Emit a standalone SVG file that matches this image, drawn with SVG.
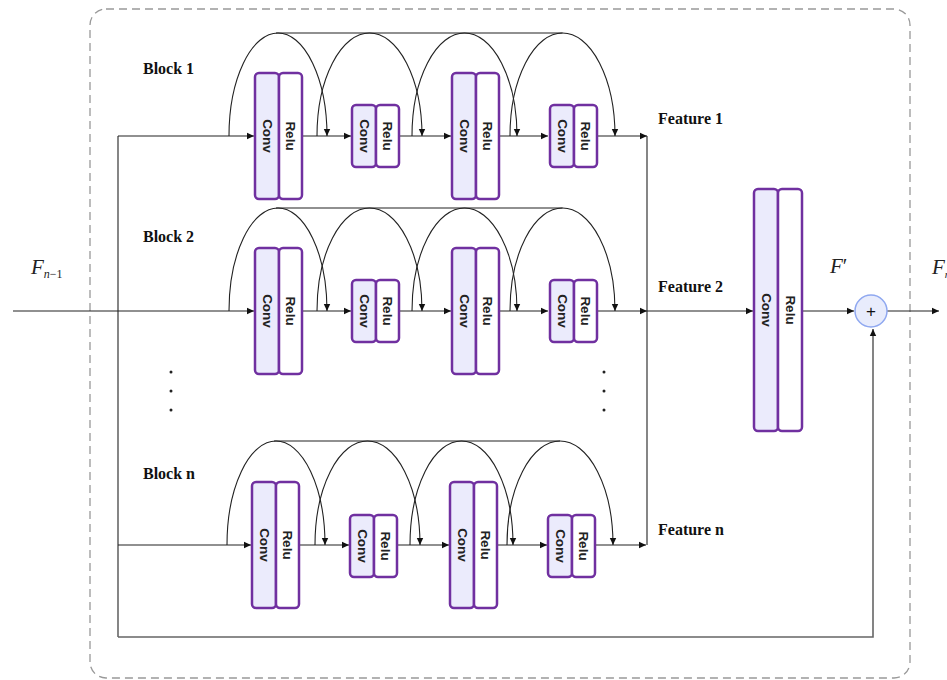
<svg xmlns="http://www.w3.org/2000/svg" width="947" height="680" viewBox="0 0 947 680">
<style>
.conv{fill:#EBEBFC;stroke:#7030A0;stroke-width:2.5}
.relu{fill:#FFFFFF;stroke:#7030A0;stroke-width:2.5}
.bt{font-family:"Liberation Sans",Arial,sans-serif;font-weight:bold;font-size:13.5px;fill:#222;text-anchor:middle;dominant-baseline:central}
.lbl{font-family:"Liberation Serif","Times New Roman",serif;font-weight:bold;font-size:16px;fill:#111}
.math{font-family:"Liberation Serif","Times New Roman",serif;font-style:italic;fill:#222}
.ln{fill:none;stroke:#222;stroke-width:1.1}
.gl{fill:none;stroke:#666;stroke-width:1.6}
.dot{fill:#222}
</style>
<defs>
<marker id="ah" markerWidth="8" markerHeight="8" refX="7" refY="4" orient="auto" markerUnits="userSpaceOnUse">
<path d="M0,0.8 L7,4 L0,7.2 Z" fill="#111"/>
</marker>
<g id="pair-big">
<rect class="conv" x="0" y="0" width="24" height="126" rx="4"/>
<rect class="relu" x="24" y="0" width="23" height="126" rx="4"/>
<text class="bt" transform="translate(12,63) rotate(90)">Conv</text>
<text class="bt" transform="translate(35.5,63) rotate(90)">Relu</text>
</g>
<g id="pair-small">
<rect class="conv" x="0" y="0" width="24" height="62" rx="4"/>
<rect class="relu" x="24" y="0" width="23" height="62" rx="4"/>
<text class="bt" transform="translate(12,31) rotate(90)">Conv</text>
<text class="bt" transform="translate(35.5,31) rotate(90)">Relu</text>
</g>
</defs>
<rect width="947" height="680" fill="#FFFFFF"/>
<rect id="frame" x="90" y="9" width="820" height="669" rx="16" fill="none" stroke="#999" stroke-width="1.3" stroke-dasharray="8,5"/>

<g id="connectors">
<polyline class="ln" points="118,136 118,637"/>
<polyline class="gl" points="118,637 873,637 873,329" marker-end="url(#ah)"/>
<!-- block 1 -->
<line class="ln" x1="118" y1="136" x2="254" y2="136" marker-end="url(#ah)"/>
<line class="ln" x1="302" y1="136" x2="351" y2="136" marker-end="url(#ah)"/>
<line class="ln" x1="399" y1="136" x2="451" y2="136" marker-end="url(#ah)"/>
<line class="ln" x1="499" y1="136" x2="548" y2="136" marker-end="url(#ah)"/>
<line class="ln" x1="597" y1="136" x2="647" y2="136" marker-end="url(#ah)"/>
<path class="ln" d="M229,136 A49,103 0 0 1 327,136" marker-end="url(#ah)"/>
<path class="ln" d="M317,136 A52.5,103 0 0 1 422,136" marker-end="url(#ah)"/>
<path class="ln" d="M412,136 A52.5,103 0 0 1 517,136" marker-end="url(#ah)"/>
<path class="ln" d="M510,136 A52.5,103 0 0 1 615,136" marker-end="url(#ah)"/>
<line class="ln" x1="276" y1="33" x2="562.5" y2="33"/>
<!-- block 2 -->
<line class="ln" x1="13" y1="311" x2="254" y2="311" marker-end="url(#ah)"/>
<line class="ln" x1="302" y1="311" x2="351" y2="311" marker-end="url(#ah)"/>
<line class="ln" x1="399" y1="311" x2="451" y2="311" marker-end="url(#ah)"/>
<line class="ln" x1="499" y1="311" x2="548" y2="311" marker-end="url(#ah)"/>
<line class="ln" x1="597" y1="311" x2="647" y2="311" marker-end="url(#ah)"/>
<path class="ln" d="M229,311 A49,103 0 0 1 327,311" marker-end="url(#ah)"/>
<path class="ln" d="M317,311 A52.5,103 0 0 1 422,311" marker-end="url(#ah)"/>
<path class="ln" d="M412,311 A52.5,103 0 0 1 517,311" marker-end="url(#ah)"/>
<path class="ln" d="M510,311 A52.5,103 0 0 1 615,311" marker-end="url(#ah)"/>
<line class="ln" x1="276" y1="208" x2="562.5" y2="208"/>
<!-- block n -->
<line class="ln" x1="118" y1="545" x2="251" y2="545" marker-end="url(#ah)"/>
<line class="ln" x1="299" y1="545" x2="349" y2="545" marker-end="url(#ah)"/>
<line class="ln" x1="397" y1="545" x2="449" y2="545" marker-end="url(#ah)"/>
<line class="ln" x1="497" y1="545" x2="547" y2="545" marker-end="url(#ah)"/>
<line class="ln" x1="595" y1="545" x2="646" y2="545" marker-end="url(#ah)"/>
<path class="ln" d="M227,545 A49,104 0 0 1 325,545" marker-end="url(#ah)"/>
<path class="ln" d="M315,545 A52.5,104 0 0 1 420,545" marker-end="url(#ah)"/>
<path class="ln" d="M410,545 A51.5,104 0 0 1 513,545" marker-end="url(#ah)"/>
<path class="ln" d="M507,545 A53,104 0 0 1 613,545" marker-end="url(#ah)"/>
<line class="ln" x1="274" y1="441" x2="560" y2="441"/>
<!-- merge -->
<line class="ln" x1="647" y1="136" x2="647" y2="545"/>
<line class="ln" x1="647" y1="311" x2="753" y2="311" marker-end="url(#ah)"/>
<line class="ln" x1="803" y1="311" x2="854" y2="311" marker-end="url(#ah)"/>
<line class="ln" x1="887" y1="311" x2="939" y2="311" marker-end="url(#ah)"/>
</g>

<g id="b1-c1"><use href="#pair-big" x="255" y="73"/></g>
<g id="b1-c2"><use href="#pair-small" x="352" y="105"/></g>
<g id="b1-c3"><use href="#pair-big" x="452" y="73"/></g>
<g id="b1-c4"><use href="#pair-small" x="550" y="105"/></g>

<g id="b2-c1"><use href="#pair-big" x="255" y="248"/></g>
<g id="b2-c2"><use href="#pair-small" x="352" y="280"/></g>
<g id="b2-c3"><use href="#pair-big" x="452" y="248"/></g>
<g id="b2-c4"><use href="#pair-small" x="550" y="280"/></g>

<g id="bn-c1"><use href="#pair-big" x="252" y="482"/></g>
<g id="bn-c2"><use href="#pair-small" x="350" y="515"/></g>
<g id="bn-c3"><use href="#pair-big" x="450" y="482"/></g>
<g id="bn-c4"><use href="#pair-small" x="548" y="515"/></g>

<g id="fuse">
<rect class="conv" x="754" y="189" width="24" height="242" rx="4"/>
<rect class="relu" x="778" y="189" width="24" height="242" rx="4"/>
<text class="bt" transform="translate(766,310) rotate(90)">Conv</text>
<text class="bt" transform="translate(790,310) rotate(90)">Relu</text>
</g>

<g id="add">
<circle cx="871" cy="311" r="16" fill="#E8ECFC" stroke="#8FA8F0" stroke-width="1.5"/>
<text x="871" y="311" font-family="Liberation Sans,Arial,sans-serif" font-size="17" fill="#111" text-anchor="middle" dominant-baseline="central">+</text>
</g>

<g id="labels">
<text class="lbl" x="143" y="74">Block 1</text>
<text class="lbl" x="143" y="242">Block 2</text>
<text class="lbl" x="143" y="479">Block n</text>
<text class="lbl" x="658" y="124">Feature 1</text>
<text class="lbl" x="658" y="292">Feature 2</text>
<text class="lbl" x="658" y="535">Feature n</text>
<text class="math" x="31" y="274" font-size="21">F<tspan font-size="12" dy="4">n</tspan><tspan font-size="12" font-style="normal">−1</tspan></text>
<text class="math" x="830" y="273" font-size="21">F<tspan font-style="normal">′</tspan></text>
<text class="math" x="932" y="274" font-size="21">F<tspan font-size="11" dy="4">n</tspan></text>
</g>

<g id="dots">
<circle class="dot" cx="171" cy="372" r="1.5"/>
<circle class="dot" cx="171" cy="391" r="1.5"/>
<circle class="dot" cx="171" cy="410" r="1.5"/>
<circle class="dot" cx="604" cy="372" r="1.5"/>
<circle class="dot" cx="604" cy="391" r="1.5"/>
<circle class="dot" cx="604" cy="410" r="1.5"/>
</g>
</svg>
